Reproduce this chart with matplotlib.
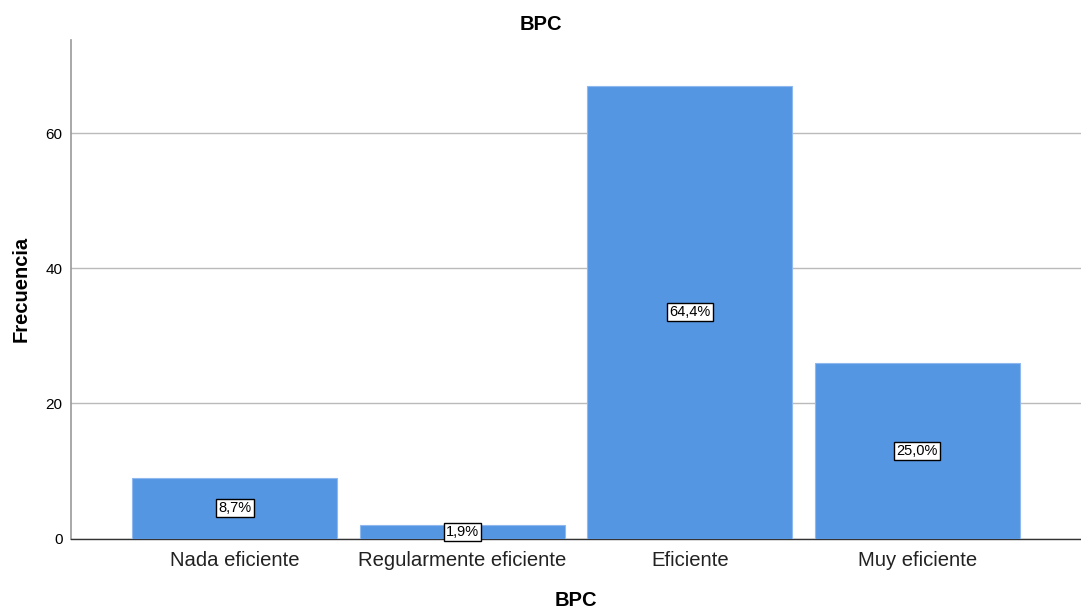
import matplotlib
matplotlib.use("Agg")
import matplotlib.pyplot as plt

categories = ["Nada eficiente", "Regularmente eficiente", "Eficiente", "Muy eficiente"]
counts = [9, 2, 67, 26]
pct_labels = ["8,7%", "1,9%", "64,4%", "25,0%"]
yticks = [0, 20, 40, 60]

plt.rcParams['font.family'] = ['Liberation Sans', 'DejaVu Sans']

fig = plt.figure(figsize=(10.81, 6.09), dpi=100)
ax = fig.add_axes([71/1081, 1 - 538.5/609, 1 - 71/1081, (538.5 - 40)/609])

x = list(range(len(categories)))
ax.bar(x, counts, width=0.9, color="#5596E3", edgecolor="#8FB8EE", linewidth=0.8, zorder=3)
for xi, c, lab in zip(x, counts, pct_labels):
    ax.text(xi, c / 2, lab, ha="center", va="center", fontsize=10.5, zorder=5,
            bbox=dict(boxstyle="square,pad=0.15", facecolor="white", edgecolor="black", linewidth=1))

ax.set_xlim(-0.72, 3.72)
ax.set_ylim(0, 73.8)
ax.set_yticks(yticks)
ax.set_yticklabels([str(v) for v in yticks], fontsize=11)
ax.set_xticks(x)
ax.set_xticklabels(categories, fontsize=14.6, color="#222222")
ax.tick_params(axis="both", length=0)
ax.tick_params(axis="x", pad=9)
ax.tick_params(axis="y", pad=6)
ax.yaxis.grid(True, color="#BBBBBB", linewidth=1, zorder=0)
ax.set_axisbelow(True)

for s in ["top", "right"]:
    ax.spines[s].set_visible(False)
ax.spines["left"].set_color("#999999")
ax.spines["left"].set_linewidth(1.2)
ax.spines["bottom"].set_color("#333333")
ax.spines["bottom"].set_linewidth(1)

fig.text(0.5, 1 - 24/609, "BPC", ha="center", va="center", fontsize=14.5, fontweight="bold")
ax.set_xlabel("BPC", fontsize=14.5, fontweight="bold", labelpad=15)
ax.set_ylabel("Frecuencia", fontsize=14.5, fontweight="bold", labelpad=11)

fig.savefig("out.png", dpi=100)
